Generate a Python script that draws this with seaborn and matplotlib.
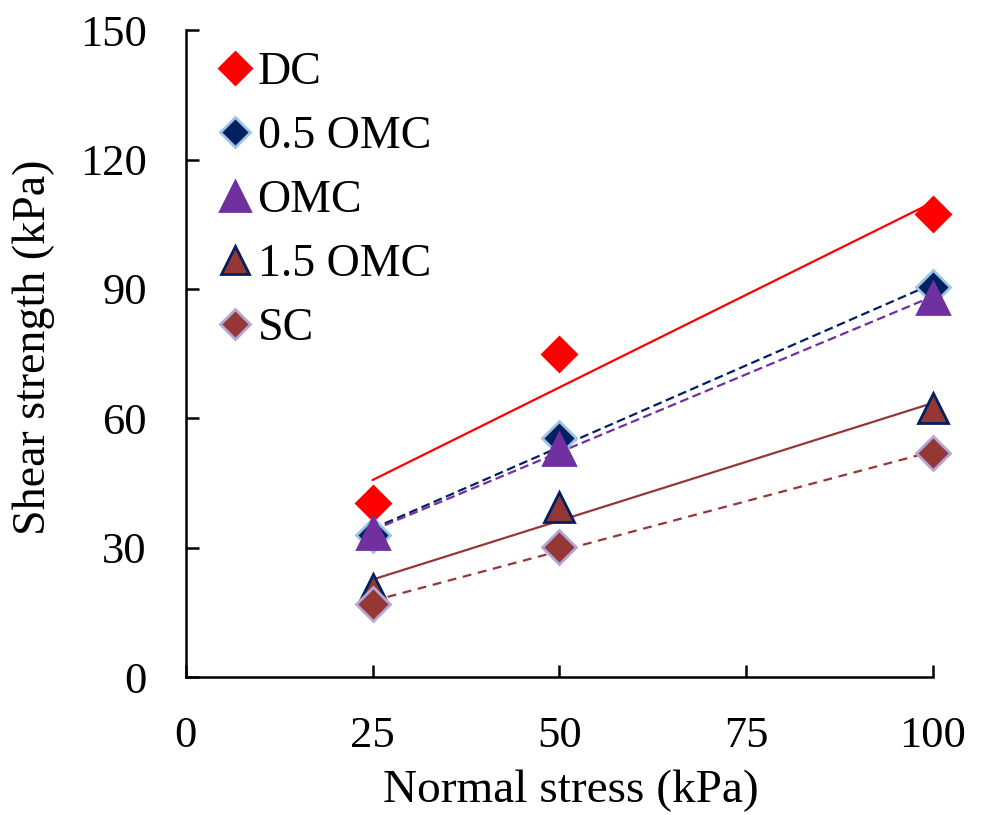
import numpy as np
import pandas as pd
import matplotlib
matplotlib.use("Agg")
import matplotlib.pyplot as plt
import seaborn as sns
from matplotlib.lines import Line2D

stress = [25, 50, 100]
series = ["DC", "0.5 OMC", "OMC", "1.5 OMC", "SC"]
dc = [40.5, 75.0, 107.5]
omc05 = [33.0, 55.5, 90.5]
omc = [33.5, 53.0, 88.0]
omc15 = [20.5, 39.5, 62.5]
sc = [17.0, 30.3, 52.0]
xticks = [0, 25, 50, 75, 100]
yticks = [0, 30, 60, 90, 120, 150]

sns.set_style("ticks")
plt.rcParams["font.family"] = ["Liberation Serif", "DejaVu Serif"]
plt.rcParams["text.color"] = "black"
plt.rcParams["axes.labelcolor"] = "black"
plt.rcParams["xtick.color"] = "black"
plt.rcParams["ytick.color"] = "black"
plt.rcParams["axes.edgecolor"] = "black"

styles = {
    "DC": dict(marker="D", ms=17.5, fc="#FF0000", ec="#FF0000", lc="#FF0000", ls="-"),
    "0.5 OMC": dict(marker="D", ms=17, fc="#002060", ec="#9DC3E6", lc="#002060", ls=(0, (4, 2))),
    "OMC": dict(marker="^", ms=23, fc="#7030A0", ec="#7030A0", lc="#7030A0", ls=(0, (4, 2))),
    "1.5 OMC": dict(marker="^", ms=22, fc="#953735", ec="#002060", lc="#953735", ls="-"),
    "SC": dict(marker="D", ms=17, fc="#953735", ec="#B4A7D6", lc="#953735", ls=(0, (4, 3))),
}
values = {"DC": dc, "0.5 OMC": omc05, "OMC": omc, "1.5 OMC": omc15, "SC": sc}

fig = plt.figure(figsize=(9.83, 8.15), dpi=100)
ax = fig.add_axes([0.189, 0.169, 0.760, 0.794])

for name in series:
    st = styles[name]
    df = pd.DataFrame({"x": stress, "y": values[name]})
    sns.regplot(data=df, x="x", y="y", ax=ax, scatter=False, ci=None, truncate=True,
                line_kws=dict(color=st["lc"], lw=1.6, ls=st["ls"], zorder=2))

handles = []
for name in series:
    st = styles[name]
    df = pd.DataFrame({"x": stress, "y": values[name]})
    sns.lineplot(data=df, x="x", y="y", ax=ax, lw=0, marker=st["marker"], markersize=st["ms"],
                 markerfacecolor=st["fc"], markeredgecolor=st["ec"], markeredgewidth=2,
                 clip_on=False, zorder=3)
    handles.append(Line2D([], [], lw=0, marker=st["marker"], markersize=st["ms"] * 0.92,
                          markerfacecolor=st["fc"], markeredgecolor=st["ec"], markeredgewidth=2,
                          label=name))

ax.set_xlim(0, 100)
ax.set_ylim(0, 150)
ax.set_xticks(xticks)
ax.set_yticks(yticks)
ax.tick_params(labelsize=32, length=9, width=1.8, direction="in")
ax.tick_params(axis="x", pad=28)
ax.tick_params(axis="y", pad=28)
for s in ["top", "right"]:
    ax.spines[s].set_visible(False)
for s in ["left", "bottom"]:
    ax.spines[s].set_linewidth(1.8)
ax.set_xlabel("Normal stress (kPa)", fontsize=34)
ax.set_ylabel("Shear strength (kPa)", fontsize=33)
ax.xaxis.set_label_coords(0.516, -0.143)
ax.yaxis.set_label_coords(-0.175, 0.51)

ax.legend(handles=handles, loc="upper left", frameon=False, fontsize=33,
          handlelength=0.8, handletextpad=0.1, labelspacing=0.47,
          bbox_to_anchor=(0.004, 1.01), borderaxespad=0.2)

fig.savefig("out.png", dpi=100)
